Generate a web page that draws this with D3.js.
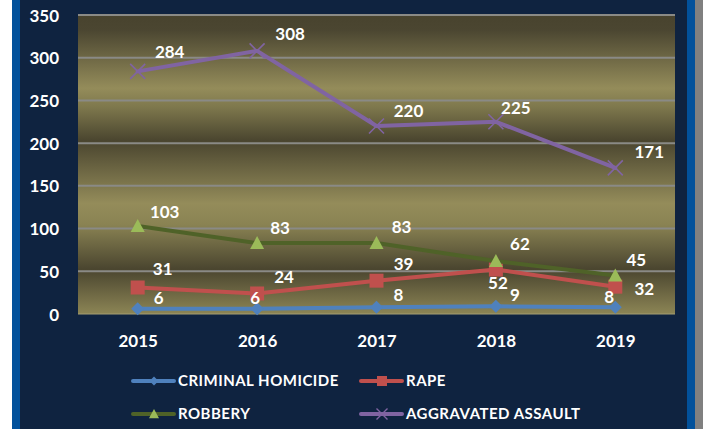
<!DOCTYPE html>
<html>
<head>
<meta charset="utf-8">
<script src="https://cdn.jsdelivr.net/npm/d3@7"></script>
<style>
  html, body { margin: 0; padding: 0; background: #ffffff; }
  svg { display: block; }
  text { font-family: Lato, "Open Sans", sans-serif; font-weight: bold; fill: #ffffff; }
</style>
</head>
<body>
<svg id="chart" width="703" height="429"></svg>
<script>
// ---- data ----
const years = ["2015", "2016", "2017", "2018", "2019"];
const homicide = [6, 6, 8, 9, 8];
const rape = [31, 24, 39, 52, 32];
const robbery = [103, 83, 83, 62, 45];
const aggravated = [284, 308, 220, 225, 171];
const seriesNames = ["CRIMINAL HOMICIDE", "RAPE", "ROBBERY", "AGGRAVATED ASSAULT"];
const yTicks = [0, 50, 100, 150, 200, 250, 300, 350];

// ---- label nudges (px, relative to the point) ----
const labelNudge = {
  "CRIMINAL HOMICIDE": [[21, -11], [-2, -11], [22, -12], [19, -11], [-6, -10]],
  "RAPE": [[25, -19], [27, -17], [27, -17], [2, 13], [29, 2]],
  "ROBBERY": [[27, -14], [23, -15], [25, -16], [24, -17], [21, -16]],
  "AGGRAVATED ASSAULT": [[32, -20], [33, -17], [32, -15], [20, -14], [34, -16]]
};

const styles = {
  "CRIMINAL HOMICIDE": { line: "#4f81bd", marker: "diamond", fill: "#4f81bd" },
  "RAPE": { line: "#c0504d", marker: "square", fill: "#c0504d" },
  "ROBBERY": { line: "#4f6228", marker: "triangle", fill: "#9bbb59" },
  "AGGRAVATED ASSAULT": { line: "#8064a2", marker: "x", fill: "#8064a2" }
};

const series = [
  { name: seriesNames[0], values: homicide },
  { name: seriesNames[1], values: rape },
  { name: seriesNames[2], values: robbery },
  { name: seriesNames[3], values: aggravated }
];

const svg = d3.select("#chart");
const W = 703, H = 429;

// frame
svg.append("rect").attr("x", 0).attr("y", 0).attr("width", W).attr("height", H).attr("fill", "#ffffff");
svg.append("rect").attr("x", 12).attr("y", 0).attr("width", 683).attr("height", H).attr("fill", "#02519b");
svg.append("rect").attr("x", 20).attr("y", 0).attr("width", 667).attr("height", H).attr("fill", "#0f2340");
svg.append("rect").attr("x", 695).attr("y", 0).attr("width", 8).attr("height", H).attr("fill", "#808080");

const plot = { left: 78, right: 675, top: 15, bottom: 314 };

const x = d3.scalePoint().domain(years).range([plot.left, plot.right]).padding(0.5);
const y = d3.scaleLinear().domain([0, 350]).range([plot.bottom, plot.top]);

// background gradient
const defs = svg.append("defs");
const grad = defs.append("linearGradient").attr("id", "bg").attr("x1", 0).attr("y1", 0).attr("x2", 0).attr("y2", 1);
const dark = "#48432e", light = "#948c5a";
[[0, dark], [0.05, "#4b4631"], [0.245, light], [0.31, "#7d774c"], [0.42, "#4a452f"],
 [0.63, light], [0.70, "#8a8353"], [0.85, "#4a452f"], [1, "#8c8555"]]
  .forEach(([o, c]) => grad.append("stop").attr("offset", o).attr("stop-color", c));

svg.append("rect")
  .attr("x", plot.left).attr("y", plot.top)
  .attr("width", plot.right - plot.left).attr("height", plot.bottom - plot.top)
  .attr("fill", "url(#bg)");

// gridlines
svg.append("g").selectAll("line").data(yTicks.filter(d => d > 0)).join("line")
  .attr("x1", plot.left).attr("x2", plot.right)
  .attr("y1", d => y(d)).attr("y2", d => y(d))
  .attr("stroke", "#8a8a86").attr("stroke-width", 2);

// baseline
svg.append("line").attr("x1", plot.left).attr("x2", plot.right)
  .attr("y1", y(0)).attr("y2", y(0)).attr("stroke", "#a39d72").attr("stroke-width", 1);

// y axis
const yAxis = d3.axisLeft(y).tickValues(yTicks).tickSize(0).tickPadding(0);
const gy = svg.append("g").attr("transform", `translate(59,0)`).call(yAxis);
gy.select(".domain").remove();
gy.selectAll("text").attr("font-size", 17).attr("fill", "#ffffff").attr("dy", "0.36em")
  .style("font-family", "Lato, sans-serif").style("font-weight", "bold");

// x axis
const xAxis = d3.axisBottom(x).tickSize(0).tickPadding(0);
const gx = svg.append("g").attr("transform", `translate(0,335)`).call(xAxis);
gx.select(".domain").remove();
gx.selectAll("text").attr("font-size", 17).attr("fill", "#ffffff").attr("dy", "0.71em")
  .style("font-family", "Lato, sans-serif").style("font-weight", "bold");

// marker paths
function markerPath(type, s) {
  if (type === "diamond") return `M0,${-s}L${s},0L0,${s}L${-s},0Z`;
  if (type === "square") return `M${-s},${-s}H${s}V${s}H${-s}Z`;
  if (type === "triangle") return `M0,${-s}L${s},${s * 0.85}L${-s},${s * 0.85}Z`;
  return `M${-s},${-s}L${s},${s}M${-s},${s}L${s},${-s}`;
}
const markerSize = { diamond: 6.5, square: 7, triangle: 7, x: 7.5 };

const line = d3.line().x((d, i) => x(years[i])).y(d => y(d));

series.forEach(s => {
  const st = styles[s.name];
  const g = svg.append("g");
  g.append("path").datum(s.values).attr("d", line)
    .attr("fill", "none").attr("stroke", st.line).attr("stroke-width", 4)
    .attr("stroke-linejoin", "round").attr("stroke-linecap", "round");
  g.selectAll("path.m").data(s.values).join("path").attr("class", "m")
    .attr("transform", (d, i) => `translate(${x(years[i])},${y(d)})`)
    .attr("d", markerPath(st.marker, markerSize[st.marker]))
    .attr("fill", st.marker === "x" ? "none" : st.fill)
    .attr("stroke", st.marker === "x" ? st.fill : "none")
    .attr("stroke-width", 1.6);
});

// data labels
series.forEach(s => {
  svg.append("g").selectAll("text").data(s.values).join("text")
    .attr("x", (d, i) => x(years[i]) + labelNudge[s.name][i][0])
    .attr("y", (d, i) => y(d) + labelNudge[s.name][i][1])
    .attr("dy", "0.36em").attr("text-anchor", "middle")
    .attr("font-size", 17)
    .text(d => d);
});

// legend
const legendPos = [[133, 381], [361, 381], [133, 414], [361, 414]];
series.forEach((s, i) => {
  const st = styles[s.name];
  const [lx, ly] = legendPos[i];
  const g = svg.append("g").attr("transform", `translate(${lx},${ly})`);
  g.append("line").attr("x1", 0).attr("x2", 41).attr("y1", 0).attr("y2", 0)
    .attr("stroke", st.line).attr("stroke-width", 4).attr("stroke-linecap", "round");
  const ms = { diamond: 4.5, square: 5, triangle: 5, x: 5.5 }[st.marker];
  g.append("path").attr("transform", "translate(21,0)")
    .attr("d", markerPath(st.marker, ms))
    .attr("fill", st.marker === "x" ? "none" : st.fill)
    .attr("stroke", st.marker === "x" ? st.fill : "none").attr("stroke-width", 1.4);
  g.append("text").attr("x", 45).attr("y", 0).attr("dy", "0.36em")
    .attr("font-size", 15).style("letter-spacing", "0.5px").text(s.name);
});
</script>
</body>
</html>
